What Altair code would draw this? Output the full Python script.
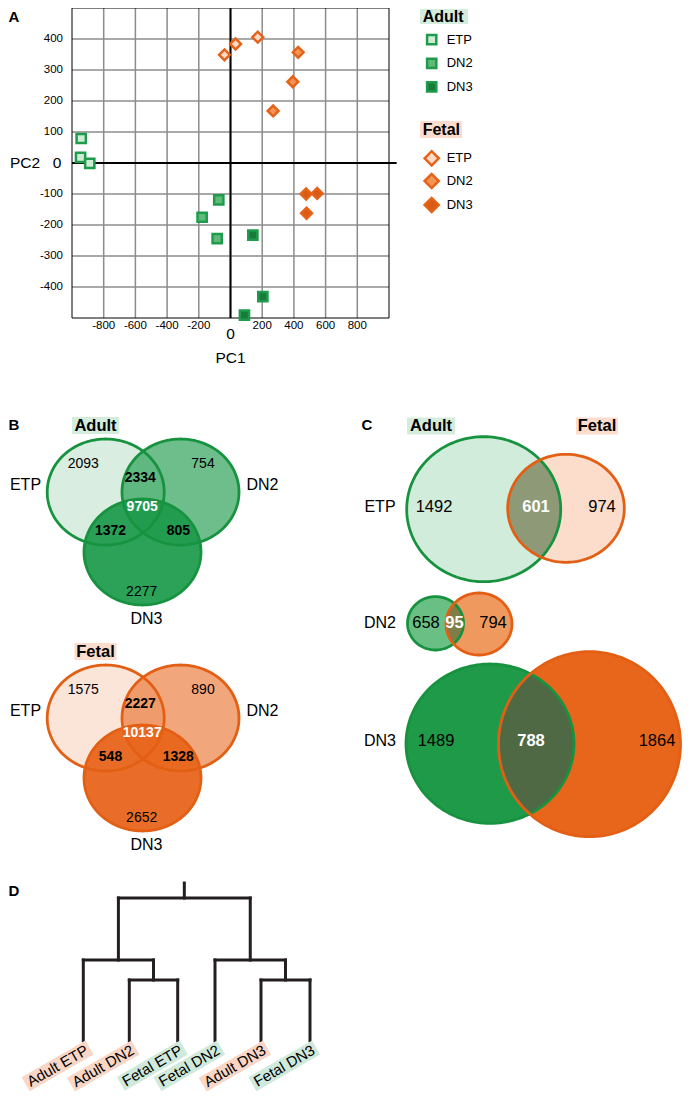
import math
import altair as alt
import pandas as pd

FONT = "Liberation Sans"

# ---------------- data ----------------
stages = ["ETP", "DN2", "DN3"]
groups = ["Adult", "Fetal"]

# Panel A: PCA scores
adult_etp_pc1 = [-942, -946, -888]
adult_etp_pc2 = [79, 18, -1]
adult_dn2_pc1 = [-74, -179, -84]
adult_dn2_pc2 = [-119, -175, -244]
adult_dn3_pc1 = [141, 204, 88]
adult_dn3_pc2 = [-233, -431, -491]
fetal_etp_pc1 = [-38, 32, 172]
fetal_etp_pc2 = [349, 384, 406]
fetal_dn2_pc1 = [427, 393, 269]
fetal_dn2_pc2 = [357, 262, 168]
fetal_dn3_pc1 = [477, 547, 480]
fetal_dn3_pc2 = [-100, -98, -162]
pc1_ticks = [-800, -600, -400, -200, 0, 200, 400, 600, 800]
pc2_ticks = [-400, -300, -200, -100, 0, 100, 200, 300, 400]

# Panel B: three-way Venn counts
venn3_regions = ["ETP", "DN2", "DN3", "ETP&DN2", "ETP&DN3", "DN2&DN3", "all"]
adult_venn3 = [2093, 754, 2277, 2334, 1372, 805, 9705]
fetal_venn3 = [1575, 890, 2652, 2227, 548, 1328, 10137]

# Panel C: Adult vs Fetal two-way Venn counts
venn2_regions = ["Adult only", "shared", "Fetal only"]
etp_venn2 = [1492, 601, 974]
dn2_venn2 = [658, 95, 794]
dn3_venn2 = [1489, 788, 1864]

# Panel D: dendrogram
leaf_names = ["Adult ETP", "Adult DN2", "Fetal ETP", "Fetal DN2", "Adult DN3", "Fetal DN3"]
merge_a = ["Adult DN2", "Adult DN3", "Adult ETP", "Fetal DN2", "m3"]
merge_b = ["Fetal ETP", "Fetal DN3", "m1", "m2", "m4"]
merge_height = [61, 61, 81, 81, 143]

# ---------------- styles / layout ----------------
W, H = 674, 1086                     # one view covering page x 8..682, y 8..1094
GREEN_LINE = "#17933f"
ORANGE_LINE = "#e35f14"
GREEN_BASE = "#1c9a4b"
ORANGE_BASE = "#e8651c"
TITLE_BG = {"Adult": "#d3ecdc", "Fetal": "#fbdccd"}
marker_keys = [f"{g} {s}" for g in groups for s in stages]
marker_fills = ["#cdebd5", "#5fba79", "#1a7a3c", "#fddcc6", "#f39456", "#d95b14"]
marker_strokes = {"Adult": "#1e9c4c", "Fetal": "#e5621a"}

# scales: PCA panel, page-pixel canvas, dendrogram heights
PX = alt.Scale(domain=[-1000, 1000], range=[64, 381], nice=False, zero=False)
PY = alt.Scale(domain=[-500, 500], range=[310, 0], nice=False, zero=False)
CX = alt.Scale(domain=[8, 8 + W], nice=False, zero=False)
CY = alt.Scale(domain=[8, 8 + H], reverse=True, nice=False, zero=False)
DY = alt.Scale(domain=[0, 158], range=[1033, 875], nice=False, zero=False)


def poly_path(pts):
    return "M" + "L".join(f"{x:.2f},{y:.2f}" for x, y in pts) + "Z"


def ellipse_path(rx, ry, n=160):
    return poly_path([(rx * math.cos(2 * math.pi * i / n), ry * math.sin(2 * math.pi * i / n)) for i in range(n)])


def lens(e1, e2, n=720):
    (a, b, c, d), (p, q, r, s) = e1, e2
    def inside(px, py, cx, cy, rx, ry):
        return ((px - cx) / rx) ** 2 + ((py - cy) / ry) ** 2 <= 1
    pts = []
    for i in range(n):
        t = 2 * math.pi * i / n
        u = (a + c * math.cos(t), b + d * math.sin(t))
        if inside(*u, p, q, r, s):
            pts.append(u)
        v = (p + r * math.cos(t), q + s * math.sin(t))
        if inside(*v, a, b, c, d):
            pts.append(v)
    mx = sum(x for x, _ in pts) / len(pts)
    my = sum(y for _, y in pts) / len(pts)
    pts.sort(key=lambda pt: math.atan2(pt[1] - my, pt[0] - mx))
    return mx, my, poly_path([(x - mx, y - my) for x, y in pts])


def X(sc, f="x"):
    return alt.X(f"{f}:Q", scale=sc, axis=None)


def Y(sc, f="y"):
    return alt.Y(f"{f}:Q", scale=sc, axis=None)


def text_layer(rows, xsc=CX, ysc=CY, align="center", bold=False, **kw):
    return alt.Chart(pd.DataFrame(rows)).mark_text(
        font=FONT, align=align, baseline="middle", fontWeight="bold" if bold else "normal", **kw
    ).encode(x=X(xsc), y=Y(ysc), text="text:N",
             size=alt.Size("size:Q", scale=None), color=alt.Color("color:N", scale=None))


def fill_layer(rows, xsc=CX, ysc=CY, **kw):
    return alt.Chart(pd.DataFrame(rows)).mark_point(filled=True, opacity=1, strokeWidth=0, size=4, **kw).encode(
        x=X(xsc), y=Y(ysc), shape=alt.Shape("path:N", scale=None),
        color=alt.Color("fill:N", scale=None), fillOpacity=alt.FillOpacity("fo:Q", scale=None))


def stroke_layer(rows, width=2.8):
    return alt.Chart(pd.DataFrame(rows)).mark_point(filled=False, opacity=1, strokeWidth=width, size=4).encode(
        x=X(CX), y=Y(CY), shape=alt.Shape("path:N", scale=None), color=alt.Color("stroke:N", scale=None))


def rect_layer(rows):
    return alt.Chart(pd.DataFrame(rows)).mark_rect().encode(
        x=X(CX), x2="x2:Q", y=Y(CY), y2="y2:Q", color=alt.Color("fill:N", scale=None))


def T(lst, x, y, s, size, color="black", bold=False):
    lst.append(dict(x=x, y=y, text=str(s), size=size, color=color, bold=bold))


# ---------------- Panel A: PCA ----------------
series = {
    "Adult ETP": (adult_etp_pc1, adult_etp_pc2), "Adult DN2": (adult_dn2_pc1, adult_dn2_pc2),
    "Adult DN3": (adult_dn3_pc1, adult_dn3_pc2), "Fetal ETP": (fetal_etp_pc1, fetal_etp_pc2),
    "Fetal DN2": (fetal_dn2_pc1, fetal_dn2_pc2), "Fetal DN3": (fetal_dn3_pc1, fetal_dn3_pc2),
}
pca_rows = []
for key, (p1, p2) in series.items():
    for a, b in zip(p1, p2):
        pca_rows.append(dict(PC1=a, PC2=b, key=key, group=key.split()[0]))
pca_df = pd.DataFrame(pca_rows)

xmin, xmax = PX.domain
ymin, ymax = PY.domain
vgrid = pd.DataFrame({"PC1": pc1_ticks, "PC1b": pc1_ticks,
                      "PC2": [ymin] * len(pc1_ticks), "PC2b": [ymax] * len(pc1_ticks)})
hgrid = pd.DataFrame({"PC2": pc2_ticks, "PC2b": pc2_ticks,
                      "PC1": [xmin] * len(pc2_ticks), "PC1b": [xmax] * len(pc2_ticks)})
zero_df = pd.DataFrame({"PC1": [0, xmin], "PC2": [ymin, 0], "PC1b": [0, xmax + 48], "PC2b": [ymax, 0]})
frame_df = pd.DataFrame({"PC1": [xmin], "PC1b": [xmax], "PC2": [ymin], "PC2b": [ymax]})


def seg(df, **mk):
    return alt.Chart(df).mark_rule(**mk).encode(
        x=X(PX, "PC1"), x2="PC1b:Q", y=Y(PY, "PC2"), y2="PC2b:Q")


pca_layers = [
    seg(vgrid, color="#8c8c8c", strokeWidth=1.5),
    seg(hgrid, color="#8c8c8c", strokeWidth=1.5),
    alt.Chart(frame_df).mark_rect(fill="transparent", stroke="black", strokeWidth=1).encode(
        x=X(PX, "PC1"), x2="PC1b:Q", y=Y(PY, "PC2"), y2="PC2b:Q"),
    seg(zero_df, color="black", strokeWidth=2),
]
fill_scale = alt.Scale(domain=marker_keys, range=marker_fills)
for g, shp, sz in [("Adult", "square", 85), ("Fetal", "diamond", 117)]:
    pca_layers.append(
        alt.Chart(pca_df).transform_filter(alt.datum.group == g).mark_point(
            shape=shp, size=sz, filled=True, opacity=1, stroke=marker_strokes[g], strokeWidth=2.5
        ).encode(x=X(PX, "PC1"), y=Y(PY, "PC2"), fill=alt.Fill("key:N", scale=fill_scale, legend=None)))

# tick labels (hyphen minus, like the original) and zero labels / axis titles
xt = pd.DataFrame({"PC1": [t for t in pc1_ticks if t], "PC2": ymin, "text": [str(t) for t in pc1_ticks if t]})
yt = pd.DataFrame({"PC2": [t for t in pc2_ticks if t], "PC1": xmin, "text": [str(t) for t in pc2_ticks if t]})
pca_layers.append(alt.Chart(xt).mark_text(font=FONT, fontSize=11.5, dy=8, baseline="middle", color="black")
                  .encode(x=X(PX, "PC1"), y=Y(PY, "PC2"), text="text:N"))
pca_layers.append(alt.Chart(yt).mark_text(font=FONT, fontSize=11.5, dx=-9, align="right", baseline="middle",
                                          color="black").encode(x=X(PX, "PC1"), y=Y(PY, "PC2"), text="text:N"))
ax_titles = [("0", 0, ymin, 0, 16), ("PC1", 0, ymin, 0, 40), ("0", xmin, 0, -15, 0), ("PC2", xmin, 0, -47, 0)]
for txt, a, b, dx, dy in ax_titles:
    pca_layers.append(alt.Chart(pd.DataFrame({"PC1": [a], "PC2": [b], "text": [txt]})).mark_text(
        font=FONT, fontSize=15.5, dx=dx, dy=dy, baseline="middle", color="black"
    ).encode(x=X(PX, "PC1"), y=Y(PY, "PC2"), text="text:N"))
pca = alt.layer(*pca_layers)

# ---------------- canvas: legend, panel letters, B and C ----------------
fills, strokes, rects, texts = [], [], [], []

T(texts, 14, 17, "A", 15, bold=True)
T(texts, 14, 425, "B", 15, bold=True)
T(texts, 367, 425, "C", 15, bold=True)

# legend of panel A
rects.append(dict(x=420, x2=468, y=9, y2=24, fill=TITLE_BG["Adult"]))
rects.append(dict(x=420, x2=462, y=121, y2=138, fill=TITLE_BG["Fetal"]))
leg_titles = [dict(x=422.7, y=16.5, text="Adult", size=16, color="black"),
              dict(x=422.7, y=130, text="Fetal", size=16, color="black")]
leg_y = {"Adult": [39.7, 63.3, 86.8], "Fetal": [158.3, 181, 205]}
leg_items, leg_labels = [], []
for g in groups:
    for s, yy in zip(stages, leg_y[g]):
        leg_items.append(dict(x=431.7, y=yy, key=f"{g} {s}", group=g))
        leg_labels.append(dict(x=446.7, y=yy, text=s, size=13, color="black"))
leg_df = pd.DataFrame(leg_items)
leg_layers = [text_layer(leg_titles, align="left", bold=True), text_layer(leg_labels, align="left")]
for g, shp, sz in [("Adult", "square", 85), ("Fetal", "diamond", 200)]:
    leg_layers.append(
        alt.Chart(leg_df).transform_filter(alt.datum.group == g).mark_point(
            shape=shp, size=sz, filled=True, opacity=1, stroke=marker_strokes[g], strokeWidth=2.5
        ).encode(x=X(CX), y=Y(CY), fill=alt.Fill("key:N", scale=fill_scale, legend=None)))

# B layout
b_centres = [(105.7, 492.0), (180.5, 492.0), (142.5, 552.0)]
b_rx, b_ry = 58.5, 53.0
b_text_pos = [(83.3, 463.5), (203, 463.5), (141.7, 591.7), (140.3, 478), (110.5, 531), (178.3, 531), (142.2, 506.7)]
b_label_pos = [(25.5, 484.5), (262.5, 484.5), (146.5, 619)]
b_title = (95.5, 425.5)
b_specs = [("Adult", 0, adult_venn3, [0.17, 0.64, 0.93], GREEN_BASE, GREEN_LINE),
           ("Fetal", 226, fetal_venn3, [0.17, 0.58, 0.95], ORANGE_BASE, ORANGE_LINE)]
for g, dy, counts, opac, base, line in b_specs:
    path = ellipse_path(b_rx, b_ry)
    for (cx, cy), op in zip(b_centres, opac):
        fills.append(dict(x=cx, y=cy + dy, path=path, fill=base, fo=op))
        strokes.append(dict(x=cx, y=cy + dy, path=path, stroke=line))
    for i, ((tx, ty), n) in enumerate(zip(b_text_pos, counts)):
        T(texts, tx, ty + dy, n, 14, color="white" if i == 6 else "black", bold=i >= 3)
    for (tx, ty), s in zip(b_label_pos, stages):
        T(texts, tx, ty + dy, s, 16)
    T(texts, b_title[0], b_title[1] + dy, g, 16.5, bold=True)
    w = 47 if g == "Adult" else 42
    rects.append(dict(x=b_title[0] - w / 2, x2=b_title[0] + w / 2, y=b_title[1] + dy - 8.5,
                      y2=b_title[1] + dy + 8.5, fill=TITLE_BG[g]))

# C layout
c_adult = [(483.7, 509.2, 77, 72.5), (435.5, 623.3, 28, 26.7), (490, 743.7, 84, 79.7)]
c_fetal = [(566, 508.3, 58.3, 54), (479, 624, 33, 31), (589.5, 744.2, 91, 92.5)]
c_adult_fill = ["#d1ecda", "#6abf85", "#1f9a49"]
c_fetal_fill = ["#fcdcca", "#f0995f", "#e8661c"]
c_lens_fill = ["#8e9a77", "#7f7d48", "#506945"]
c_text_x = [(434, 536, 602), (426, 454.5, 493), (436, 531, 657)]
c_text_y = [507, 623, 741]
for i, counts in enumerate([etp_venn2, dn2_venn2, dn3_venn2]):
    ea, ef = c_adult[i], c_fetal[i]
    fills.append(dict(x=ea[0], y=ea[1], path=ellipse_path(ea[2], ea[3]), fill=c_adult_fill[i], fo=1))
    fills.append(dict(x=ef[0], y=ef[1], path=ellipse_path(ef[2], ef[3]), fill=c_fetal_fill[i], fo=1))
    lx, ly, lp = lens(ea, ef)
    fills.append(dict(x=lx, y=ly, path=lp, fill=c_lens_fill[i], fo=1))
    strokes.append(dict(x=ea[0], y=ea[1], path=ellipse_path(ea[2], ea[3]), stroke=GREEN_LINE))
    strokes.append(dict(x=ef[0], y=ef[1], path=ellipse_path(ef[2], ef[3]), stroke=ORANGE_LINE))
    T(texts, 380, c_text_y[i], stages[i], 16)
    for j, n in enumerate(counts):
        T(texts, c_text_x[i][j], c_text_y[i], n, 16.5, color="white" if j == 1 else "black", bold=j == 1)
for g, cx, w in [("Adult", 431, 48), ("Fetal", 597, 42)]:
    T(texts, cx, 426, g, 16.5, bold=True)
    rects.append(dict(x=cx - w / 2, x2=cx + w / 2, y=417.5, y2=434.5, fill=TITLE_BG[g]))

T(texts, 14, 890.5, "D", 15, bold=True)

canvas = alt.layer(
    rect_layer(rects),
    fill_layer(fills),
    stroke_layer(strokes),
    text_layer([t for t in texts if not t["bold"]]),
    text_layer([t for t in texts if t["bold"]], bold=True),
    *leg_layers,
)

# ---------------- Panel D: dendrogram ----------------
leaf_x = [83.3, 129.3, 177.7, 215.0, 261.0, 310.0]
node = {n: (x, 0.0) for n, x in zip(leaf_names, leaf_x)}
segs = []
for k, (a, b, h) in enumerate(zip(merge_a, merge_b, merge_height)):
    (xa, ha), (xb, hb) = node[a], node[b]
    segs += [dict(x=xa, y=ha, x2=xa, y2=h), dict(x=xb, y=hb, x2=xb, y2=h), dict(x=xa, y=h, x2=xb, y2=h)]
    node[f"m{k + 1}"] = ((xa + xb) / 2, h)
rx_, rh_ = node[f"m{len(merge_height)}"]
segs.append(dict(x=rx_, y=rh_, x2=rx_, y2=rh_ + 15))
dend_rules = alt.Chart(pd.DataFrame(segs)).mark_rule(color="#231f20", strokeWidth=3, strokeCap="square").encode(
    x=X(CX), y=Y(DY), x2="x2:Q", y2="y2:Q")

AW = {'A': .667, 'd': .556, 'u': .556, 'l': .222, 't': .278, ' ': .278, 'E': .667, 'T': .611, 'P': .667,
      'D': .722, 'N': .722, '2': .556, '3': .556, 'F': .611, 'e': .556, 'a': .556}
LFS = 15
lab_bg, lab_txt = [], []
for name, x in zip(leaf_names, leaf_x):
    w = sum(AW.get(ch, .556) for ch in name) * LFS
    path = poly_path([(-(w + 3), -8), (3, -8), (3, 8), (-(w + 3), 8)])
    bg = "#f9d6c5" if name.startswith("Adult") else "#cfeadb"
    lab_bg.append(dict(x=x + 3.5, y=-8, path=path, fill=bg, fo=1))
    lab_txt.append(dict(x=x + 3.5, y=-8, text=name, size=LFS, color="black"))
dend = alt.layer(
    dend_rules,
    fill_layer(lab_bg, CX, DY, angle=330),
    text_layer(lab_txt, CX, DY, align="right", angle=330),
)

chart = alt.layer(pca, canvas, dend).resolve_scale(x="independent", y="independent").properties(
    width=W, height=H, padding=0, background="white", autosize=alt.AutoSizeParams(type="none")
).configure_view(stroke="transparent")

chart.save("out.html", embed_options={"renderer": "svg", "actions": False})
